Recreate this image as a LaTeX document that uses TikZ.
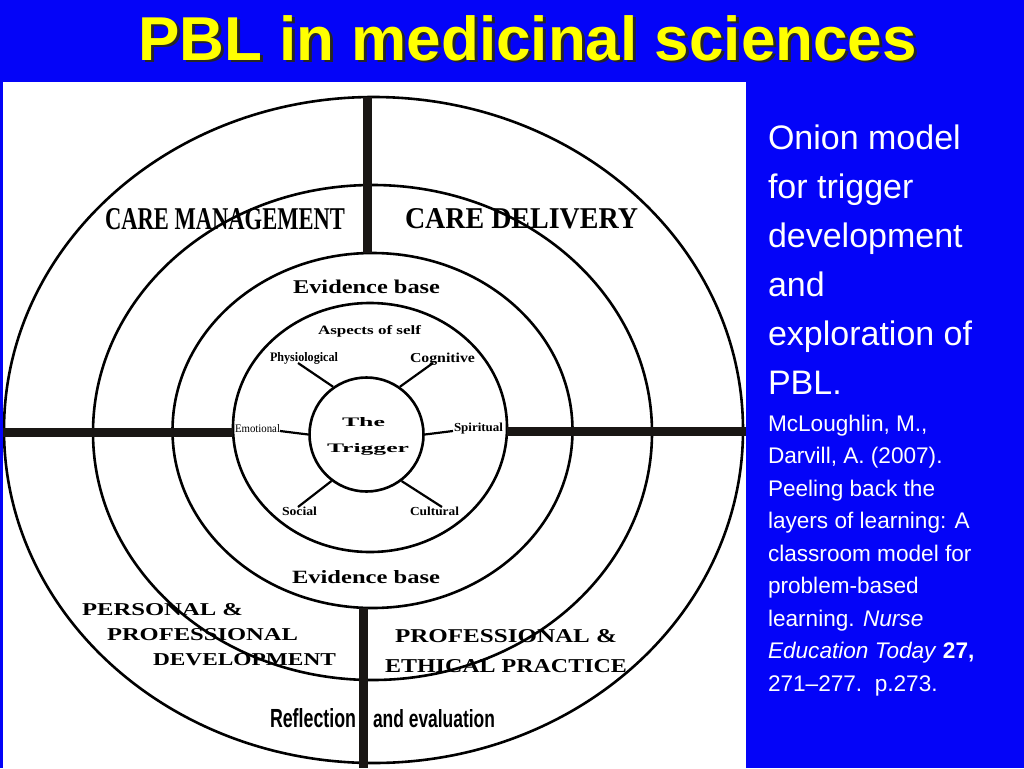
\documentclass[tikz,border=0pt]{standalone}
\usepackage{fontspec}
\usepackage{graphicx}
\setmainfont{Liberation Sans}
\newfontfamily\serf{Liberation Serif}
\definecolor{slideblue}{RGB}{4,4,248}
\definecolor{titleyellow}{RGB}{255,255,0}
\definecolor{bardark}{RGB}{25,22,20}
\newcommand\fitbox[3]{\resizebox{#1pt}{#2pt}{#3}}
\begin{document}
\begin{tikzpicture}[x=1pt,y=-1pt,
  ring/.style={line width=2.6pt, black},
  bar/.style={line width=9pt, bardark},
  spoke/.style={line width=2.2pt, black},
  lab/.style={anchor=base west, inner sep=0pt, outer sep=0pt, text=black},
  side/.style={anchor=base west, inner sep=0pt, outer sep=0pt, text=white},
  big/.style={side, font=\fontsize{34}{40}\selectfont},
  small/.style={side, font=\fontsize{22.6}{27}\selectfont}]
\useasboundingbox (0,0) rectangle (1024,768);
% background
\fill[slideblue] (0,0) rectangle (1024,768);
\fill[white] (3,82) rectangle (746,768);
% title
\node[anchor=base, inner sep=0pt, text=black!85, font=\fontsize{62}{70}\selectfont\bfseries] (titleshadow) at (530.5,63) {PBL in medicinal sciences};
\node[anchor=base, inner sep=0pt, text=titleyellow, font=\fontsize{62}{70}\selectfont\bfseries] (title) at (527.5,60) {PBL in medicinal sciences};
% rings
\begin{scope}
\clip (3,82) rectangle (746,768);
\draw[ring] (373.5,430) ellipse [x radius=369.5, y radius=333];
\draw[ring] (372.5,432.5) ellipse [x radius=279.5, y radius=247.5];
\draw[ring] (372.5,430.5) ellipse [x radius=200, y radius=177.5];
\draw[ring] (370,427.5) ellipse [x radius=137, y radius=124.5];
\end{scope}
% thick bars
\draw[bar] (367,97) -- (367,253);
\draw[bar] (363,608) -- (363,768);
\draw[bar] (3,432) -- (233,432);
\draw[bar] (507,431) -- (746,431);
% trigger circle
\node[circle, draw=black, line width=2.6pt, minimum size=114pt, inner sep=0pt] (trig) at (366.5,434.5) {};
\coordinate (sPhys) at (298,363);
\coordinate (sCogn) at (433,363);
\coordinate (sEmot) at (280,431);
\coordinate (sSpir) at (453,431);
\coordinate (sSoci) at (298,507);
\coordinate (sCult) at (442,507);
\draw[spoke] (trig.125) -- (sPhys);
\draw[spoke] (trig.55) -- (sCogn);
\draw[spoke] (trig.180) -- (sEmot);
\draw[spoke] (trig.0) -- (sSpir);
\draw[spoke] (trig.233) -- (sSoci);
\draw[spoke] (trig.307) -- (sCult);
% labels
\node[lab] (cm) at (105,229) {\fitbox{240}{21}{\serf\bfseries CARE MANAGEMENT}};
\node[lab] (cd) at (405,228) {\fitbox{233}{20}{\serf\bfseries CARE DELIVERY}};
\node[lab] (eb1) at (293,293) {\fitbox{147}{13.5}{\serf\bfseries Evidence base}};
\node[lab] (aos) at (318,334.5) {\fitbox{103}{9}{\serf\bfseries Aspects of self}};
\node[lab] (phys) at (270,361) {\fitbox{68}{9}{\serf\bfseries Physiological}};
\node[lab] (cogn) at (410,362) {\fitbox{65}{9.5}{\serf\bfseries Cognitive}};
\node[lab] (emot) at (235,432) {\fitbox{45}{8}{\serf Emotional}};
\node[lab] (spir) at (454,431) {\fitbox{49}{8.5}{\serf\bfseries Spiritual}};
\node[lab] (soci) at (282,515) {\fitbox{35}{8.5}{\serf\bfseries Social}};
\node[lab] (cult) at (410,515) {\fitbox{49}{8.5}{\serf\bfseries Cultural}};
\node[lab] (the) at (342,426) {\fitbox{43}{9}{\serf\bfseries The}};
\node[lab] (trg) at (327,452) {\fitbox{82}{9}{\serf\bfseries Trigger}};
\node[lab] (eb2) at (292,583) {\fitbox{148}{13}{\serf\bfseries Evidence base}};
\node[lab] (ppd1) at (82,615) {\fitbox{161}{12}{\serf\bfseries PERSONAL \&}};
\node[lab] (ppd2) at (107,640) {\fitbox{191}{12}{\serf\bfseries PROFESSIONAL}};
\node[lab] (ppd3) at (153,665) {\fitbox{183}{12}{\serf\bfseries DEVELOPMENT}};
\node[lab] (pep1) at (395,642) {\fitbox{222}{13}{\serf\bfseries PROFESSIONAL \&}};
\node[lab] (pep2) at (385,672) {\fitbox{242}{13}{\serf\bfseries ETHICAL PRACTICE}};
\node[lab] (refl) at (270,727) {\fitbox{86}{19}{\bfseries Reflection}};
\node[lab] (eval) at (373,727) {\fitbox{122}{18}{\bfseries and evaluation}};
% side text
\node[big] (t1) at (768,149) {Onion model};
\node[big] (t2) at (768,198) {for trigger};
\node[big] (t3) at (768,247) {development};
\node[big] (t4) at (768,296) {and};
\node[big] (t5) at (768,345) {exploration of};
\node[big] (t6) at (768,394) {PBL.};
\node[small] (r1) at (768,431) {McLoughlin, M.,};
\node[small] (r2) at (768,463.5) {Darvill, A. (2007).};
\node[small] (r3) at (768,496) {Peeling back the};
\node[small] (r4) at (768,528.5) {layers of learning: A};
\node[small] (r5) at (768,561) {classroom model for};
\node[small] (r6) at (768,593.5) {problem-based};
\node[small] (r7) at (768,626) {learning. \textit{Nurse}};
\node[small] (r8) at (768,658.5) {\textit{Education Today} \textbf{27,}};
\node[small] (r9) at (768,691) {271–277.\ \ p.273.};
\end{tikzpicture}
\end{document}
